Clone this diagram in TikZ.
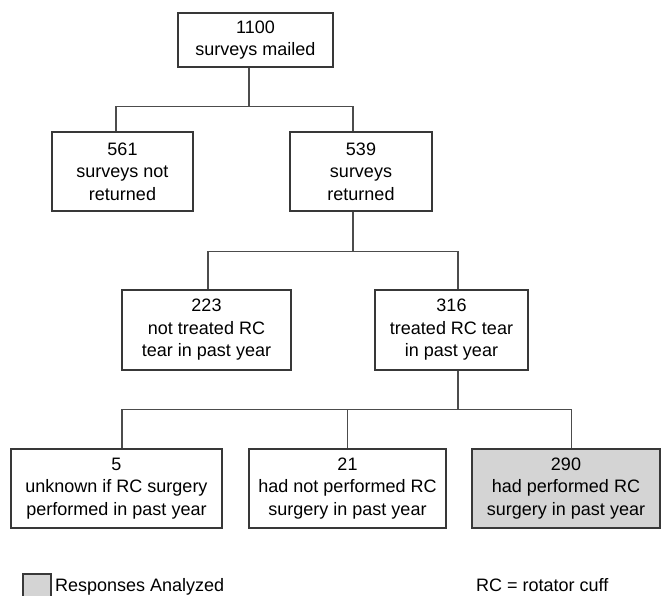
\documentclass[tikz,border=0pt]{standalone}
\usepackage{fontspec}
\setmainfont{Liberation Sans}

\begin{document}
\begin{tikzpicture}[x=1pt,y=-1pt,
	box/.style={draw=black!78,line width=1.2pt,align=center,inner sep=0pt,font=\fontsize{18}{22.5}\selectfont},
	kept/.style={box,fill=black!17},
	link/.style={draw=black!70,line width=1.2pt},
	note/.style={anchor=base west,inner sep=0pt,font=\fontsize{18}{22.5}\selectfont}]
	\useasboundingbox (0,0) rectangle (661,596);
	% flow boxes
	\node[box,minimum width=155pt,minimum height=54pt] (mailed) at (255.5,40) {1100\\surveys mailed};
	\node[box,minimum width=141pt,minimum height=79pt] (notret) at (122.5,171.5) {561\\surveys not\\returned};
	\node[box,minimum width=142pt,minimum height=79pt] (ret) at (361,171.5) {539\\surveys\\returned};
	\node[box,minimum width=169pt,minimum height=80pt] (nottreat) at (206.5,330) {223\\not treated RC\\tear in past year};
	\node[box,minimum width=153pt,minimum height=80pt] (treat) at (451.5,330) {316\\treated RC tear\\in past year};
	\node[box,minimum width=211pt,minimum height=79pt] (unknown) at (116.5,488.5) {5\\unknown if RC surgery\\performed in past year};
	\node[box,minimum width=197pt,minimum height=79pt] (notperf) at (347.5,488.5) {21\\had not performed RC\\surgery in past year};
	\node[kept,minimum width=188pt,minimum height=79pt] (perf) at (566,488.5) {290\\had performed RC\\surgery in past year};
	% connectors
	\draw[link] ([xshift=-6.5pt]mailed.south) -- ++(0,39) -| ([xshift=-6.5pt]notret.north);
	\draw[link] ([xshift=-6.5pt]mailed.south) -- ++(0,39) -| ([xshift=-8pt]ret.north);
	\draw[link] ([xshift=-8pt]ret.south) -- ++(0,40) -| ([xshift=1.5pt]nottreat.north);
	\draw[link] ([xshift=-8pt]ret.south) -- ++(0,40) -| ([xshift=6.5pt]treat.north);
	\draw[link] ([xshift=6.5pt]treat.south) -- ++(0,39) -| ([xshift=5.5pt]unknown.north);
	\draw[link] ([xshift=6.5pt]treat.south) -- ++(0,39) -| (notperf.north);
	\draw[link] ([xshift=6.5pt]treat.south) -- ++(0,39) -| ([xshift=5.5pt]perf.north);
	% legend
	\node[kept,minimum width=28pt,minimum height=24pt] (keybox) at (37,586) {};
	\node[note] (keytext) at (55,591) {Responses Analyzed};
	\node[note] (abbrev) at (476,591) {RC = rotator cuff};
\end{tikzpicture}
\end{document}
